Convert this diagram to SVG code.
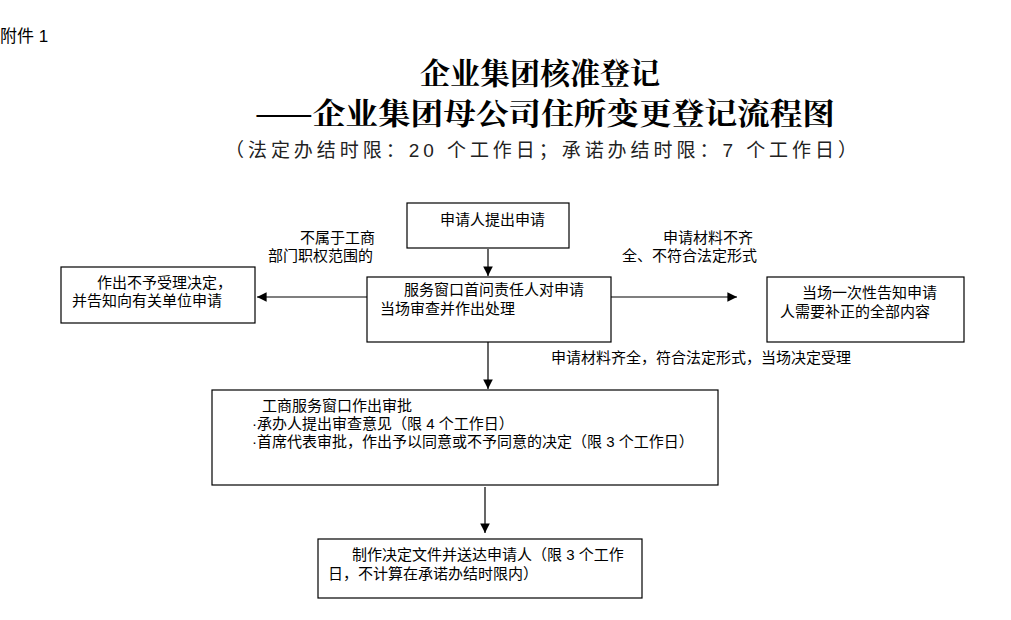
<svg xmlns="http://www.w3.org/2000/svg" width="1011" height="620" viewBox="0 0 1011 620">
<defs>
<style>
text{font-family:"Liberation Sans","Noto Sans CJK SC",sans-serif;font-size:15px;fill:#000}
.t{font-size:30px;font-weight:bold;font-family:"Noto Serif CJK SC","Noto Sans CJK SC",serif}
.s{font-size:19px;fill:#222}
rect{fill:#fff;stroke:#000;stroke-width:1.2}
line{stroke:#000;stroke-width:1.2}
</style>
<marker id="a" viewBox="0 0 10 10" refX="10" refY="5" markerWidth="8" markerHeight="8" orient="auto"><path d="M0,0L10,5L0,10z" fill="#000"/></marker>
</defs>
<text x="0" y="42" style="font-size:17px">附件 1</text>
<text class="t" x="540" y="84" text-anchor="middle">企业集团核准登记</text>
<text class="t" x="545" y="124" textLength="580" lengthAdjust="spacingAndGlyphs" text-anchor="middle">——企业集团母公司住所变更登记流程图</text>
<text class="s" x="225" y="157" textLength="632" lengthAdjust="spacing">（法定办结时限：20 个工作日；承诺办结时限：7 个工作日）</text>
<g id="connectors">
<line x1="488" y1="249" x2="488" y2="276" marker-end="url(#a)"/>
<line x1="367" y1="297" x2="257" y2="297" marker-end="url(#a)"/>
<line x1="611" y1="297" x2="737" y2="297" marker-end="url(#a)"/>
<line x1="488" y1="342" x2="488" y2="389" marker-end="url(#a)"/>
<line x1="485" y1="487" x2="485" y2="533" marker-end="url(#a)"/>
<text x="300" y="243">不属于工商</text>
<text x="268" y="261">部门职权范围的</text>
<text x="663" y="243">申请材料不齐</text>
<text x="622" y="261">全、不符合法定形式</text>
<text x="551" y="363">申请材料齐全，符合法定形式，当场决定受理</text>
</g>
<g id="n1"><rect x="407" y="203" width="162" height="45"/><text x="440" y="225">申请人提出申请</text></g>
<g id="n2"><rect x="367" y="277" width="244" height="65"/><text x="404" y="295">服务窗口首问责任人对申请</text><text x="380" y="314">当场审查并作出处理</text></g>
<g id="n3"><rect x="61" y="267" width="194" height="56"/><text x="97" y="288">作出不予受理决定，</text><text x="72" y="306">并告知向有关单位申请</text></g>
<g id="n4"><rect x="767" y="277" width="197" height="65"/><text x="802" y="298">当场一次性告知申请</text><text x="780" y="317">人需要补正的全部内容</text></g>
<g id="n5"><rect x="212" y="390" width="506" height="95"/><text x="262" y="411">工商服务窗口作出审批</text><text x="252" y="429">·承办人提出审查意见（限 4 个工作日）</text><text x="252" y="447">·首席代表审批，作出予以同意或不予同意的决定（限 3 个工作日）</text></g>
<g id="n6"><rect x="318" y="539" width="324" height="59"/><text x="352" y="560">制作决定文件并送达申请人（限 3 个工作</text><text x="328" y="579">日，不计算在承诺办结时限内）</text></g>
</svg>
